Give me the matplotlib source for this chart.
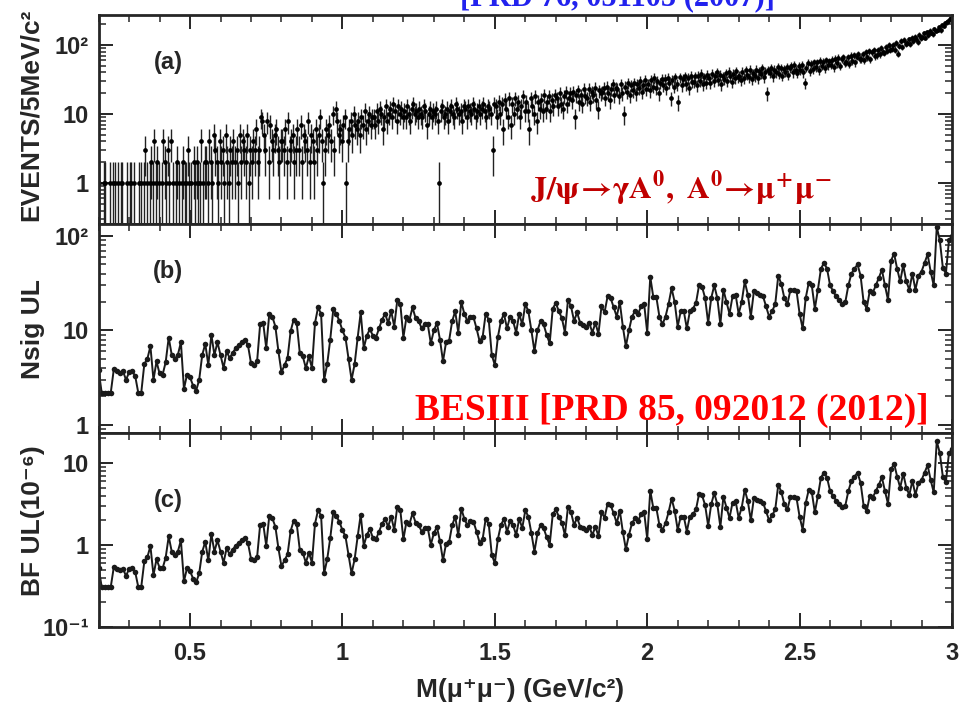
import numpy as np
import matplotlib
matplotlib.use("Agg")
import matplotlib.pyplot as plt
from matplotlib import font_manager as fm
from matplotlib.ticker import FixedLocator, FixedFormatter, MultipleLocator, LogLocator, NullFormatter

# ---------------- data ----------------
# (a) events per 5 MeV bin, rows of 10 bins starting at 0.20, 0.25, ... 2.95 GeV
events_rows = [
    [1,0,0,1,1,0,0,1,0,1], [1,0,1,0,1,1,0,0,1,0], [1,1,0,1,0,0,1,1,0,1], [3,1,0,1,2,1,4,1,2,1],
    [0,1,4,2,1,3,1,4,1,0], [1,2,1,0,1,2,1,1,3,1], [1,0,2,1,2,1,1,4,1,2], [2,1,4,2,1,5,3,2,1,4],
    [2,3,1,5,2,1,3,2,4,2], [3,1,5,2,4,3,2,5,1,3], [2,4,3,6,2,3,9,8,5,3], [8,2,7,4,3,5,6,3,2,4],
    [4,3,6,2,8,3,4,5,2,3], [6,3,7,2,5,4,3,8,2,5], [4,2,6,3,5,9,4,1,3,6], [5,7,4,10,3,12,8,5,6,4],
    [7,9,1,4,6,8,5,10,7,6], [8,5,9,7,11,6,8,10,7,9], [9,7,11,8,12,10,6,9,13,8], [10,12,9,14,11,8,13,10,12,9],
    [11,9,13,10,8,12,14,10,11,9], [12,10,9,13,11,7,10,12,9,11], [10,12,8,1,11,13,9,10,12,8], [11,13,10,9,14,12,10,11,8,13],
    [12,9,13,11,10,14,12,9,11,13], [10,12,14,11,9,13,12,10,3,14], [13,9,15,10,14,6,16,12,9,17], [7,14,10,17,12,15,9,13,18,11],
    [15,11,6,17,13,10,18,8,15,12], [16,11,19,12,15,18,11,16,13,19], [17,13,20,14,12,18,21,14,17,20], [16,21,9,19,22,15,19,14,23,18],
    [17,23,15,21,19,24,16,12,22,20], [21,24,17,25,20,16,23,27,19,24], [23,18,27,20,10,25,21,28,19,26], [22,28,20,27,24,30,21,26,31,23],
    [27,22,31,25,33,24,30,20,28,32], [26,32,24,33,28,17,31,25,34,27], [15,34,26,32,35,27,33,24,36,29], [29,35,26,36,30,38,27,34,28,37],
    [33,28,38,30,36,40,31,37,27,35], [32,39,30,41,35,29,38,33,42,34], [36,31,41,33,43,37,34,44,32,39], [35,44,33,42,38,46,34,41,20,43],
    [39,46,35,44,40,48,38,47,36,45], [41,48,37,46,50,40,51,43,39,49], [44,51,40,28,47,55,42,53,45,56], [48,56,44,59,50,57,46,60,51,58],
    [52,61,48,63,54,65,50,62,67,55], [57,66,53,70,59,72,56,68,74,63], [63,74,60,78,66,81,62,79,84,70], [71,84,73,90,80,77,95,82,99,86],
    [88,101,86,108,75,97,114,94,118,104], [106,121,103,128,115,131,122,112,140,127], [130,147,128,155,140,162,151,142,170,160],
    [165,182,163,196,190,205,212,225,238,250],
]
mass_lo, mass_hi, bin_w = 0.20, 3.00, 0.005

# (b) Nsig upper limit, 10 MeV steps from 0.20 to 3.00 GeV
nsig_rows = [
    [3.8,2.2,2.2,2.2,2.2,3.9,3.7,3.5,3.7,3.0], [3.6,3.7,3.3,2.2,2.2,4.4,5.0,6.8,3.0,4.7],
    [3.5,3.4,4.6,8.4,5.5,5.0,5.5,7.5,2.4,3.4], [3.2,2.6,2.3,3.0,5.5,7.2,4.3,9.0,5.5,7.5],
    [5.5,4.0,6.0,5.1,5.8,6.5,7.0,7.5,8.0,7.0], [4.5,4.3,4.7,11.6,12.0,6.5,15.0,14.0,11.0,6.0],
    [3.6,4.3,5.1,9.8,13.0,12.0,5.8,5.3,4.0,5.3], [4.0,12.0,17.5,15.0,3.0,4.4,8.0,16.7,15.0,12.6],
    [10.0,8.4,5.0,3.0,4.4,8.4,15.5,6.5,8.8,10.3], [8.8,8.4,10.5,13.0,15,12,16,11,21,19],
    [8.4,13.8,13,17.5,13.5,12.6,10.5,11.6,11.6,7.3], [10,12,8,4.7,7.5,7.8,12.5,16,9.5,20],
    [15,12.6,14,13.8,10.5,7.7,8.5,15,13,5.5], [4.3,8.5,12.6,15,10.5,14,12.5,9.5,15,11.6],
    [19,16,10,6,10,12.6,11.6,9,7.3,17], [19.5,16,13.5,9.5,21,18,12.6,15.5,12,11.5],
    [11,12,9.5,12,9.2,18,15.5,23,22,17.5], [14,20,11,6.8,10,14,16,15,18,19],
    [9.5,37,22.5,22.5,14,11.6,14,19,28,20], [11,16,16,10.5,16,17,19.5,30,29,22],
    [12,22,30,22,11.6,27,20,15,23,24], [15,20,33,24,14,26,25,24,23,18],
    [14,16,19,38,31,22,19,27,27,26], [15,10.5,22,32,30,17,27,45,52,45],
    [30,26,23,21,19,20,30,40,45,50], [38,20,17,26,25,30,36,44,30,21],
    [55,65,45,33,49,33,27,40,27,38], [42,52,64,42,30,125,90,46,40,90],
    [100],
]

# (c) BF upper limit (1e-6), same mass points
bf_rows = [
    [0.53,0.31,0.31,0.31,0.31,0.54,0.51,0.49,0.51,0.42], [0.51,0.53,0.47,0.31,0.31,0.63,0.71,0.97,0.43,0.67],
    [0.53,0.52,0.70,1.27,0.83,0.76,0.83,1.14,0.36,0.52], [0.48,0.39,0.35,0.45,0.83,1.09,0.65,1.36,0.83,1.14],
    [0.83,0.61,0.91,0.77,0.88,0.98,1.06,1.14,1.21,1.06], [0.68,0.65,0.71,1.76,1.82,0.98,2.27,2.12,1.67,0.91],
    [0.55,0.65,0.77,1.48,1.97,1.82,0.88,0.80,0.61,0.80], [0.61,1.82,2.65,2.27,0.45,0.67,1.21,2.53,2.27,1.91],
    [1.52,1.27,0.76,0.45,0.67,1.27,2.35,0.98,1.33,1.56], [1.22,1.17,1.46,1.81,2.08,1.67,2.22,1.53,2.92,2.64],
    [1.17,1.92,1.81,2.43,1.88,1.75,1.46,1.61,1.61,1.01], [1.39,1.67,1.11,0.65,1.04,1.08,1.74,2.22,1.32,2.78],
    [2.08,1.75,1.94,1.92,1.46,1.07,1.18,2.08,1.81,0.76], [0.60,1.18,1.75,2.08,1.46,1.94,1.74,1.32,2.08,1.61],
    [2.64,2.22,1.39,0.83,1.39,1.75,1.61,1.25,1.01,2.36], [2.71,2.22,1.88,1.32,2.92,2.50,1.75,2.15,1.67,1.60],
    [1.53,1.67,1.32,1.67,1.28,2.50,2.15,3.19,3.06,2.43], [1.84,2.63,1.45,0.89,1.32,1.84,2.11,1.97,2.37,2.50],
    [1.19,4.60,2.81,2.81,1.75,1.53,1.84,2.50,3.68,2.63], [1.53,2.22,2.22,1.46,2.22,2.36,2.71,4.17,4.03,3.06],
    [1.71,3.14,4.29,3.14,1.66,3.86,2.86,2.14,3.29,3.43], [2.14,2.86,4.71,3.43,2.00,3.71,3.57,3.43,3.29,2.57],
    [2.00,2.29,2.71,5.43,4.43,3.14,2.71,3.86,3.86,3.71], [2.21,1.54,3.24,4.71,4.41,2.50,3.97,6.62,7.65,6.62],
    [4.55,3.94,3.48,3.18,2.88,3.03,4.55,6.06,6.82,7.58], [5.76,3.03,2.58,3.94,3.79,4.55,5.45,6.67,4.55,3.18],
    [8.33,9.85,6.82,5.00,7.42,5.00,4.09,6.06,4.09,5.76], [6.18,7.65,9.41,6.18,4.41,18.4,13.2,6.76,5.88,13.2],
    [14.7],
]
ul_step = 0.01

xtick_vals = [0.5, 1, 1.5, 2, 2.5, 3]
xtick_labels = ["0.5", "1", "1.5", "2", "2.5", "3"]
ya_ticks, ya_labels = [1, 10, 100], ["1", "10", "10\u00b2"]
yb_ticks, yb_labels = [1, 10, 100], ["1", "10", "10\u00b2"]
yc_ticks, yc_labels = [0.1, 1, 10], ["10\u207b\u00b9", "1", "10"]

# ---------------- fonts ----------------
names = {f.name for f in fm.fontManager.ttflist}
sans = [n for n in ["Liberation Sans", "DejaVu Sans"] if n in names]
serif = [n for n in ["Liberation Serif", "DejaVu Serif"] if n in names]
plt.rcParams["font.family"] = sans
plt.rcParams["font.weight"] = "bold"
plt.rcParams["mathtext.fontset"] = "stix"
tick_fs = 17
lab_fs = 19
ink = "#262626"

# ---------------- arrays ----------------
events = np.array(sum(events_rows, []), dtype=float)
centers = mass_lo + bin_w * (np.arange(events.size) + 0.5)
nsig = np.array(sum(nsig_rows, []), dtype=float)
bf = np.array(sum(bf_rows, []), dtype=float)
x_ul = mass_lo + ul_step * np.arange(nsig.size)

# ---------------- figure ----------------
W, H = 959, 706
fig = plt.figure(figsize=(W / 100, H / 100), dpi=100)
left, right = 98.6 / W, 952 / W
def rect(top_px, bot_px):
    return [left, 1 - bot_px / H, right - left, (bot_px - top_px) / H]

ax_a = fig.add_axes(rect(15, 224))
ax_b = fig.add_axes(rect(224, 433))
ax_c = fig.add_axes(rect(433, 627))

# (a)
m = events > 0
y = events[m]
err = np.sqrt(y)
lo = np.clip(y - err, 1e-3, None)
ax_a.errorbar(centers[m], y, yerr=[y - lo, err], xerr=bin_w / 2, fmt="o", ms=3.4,
              color="black", ecolor="#222222", elinewidth=1.0, capsize=0, mew=0)
ax_a.set_ylim(0.255, 272)

# (b)
ax_b.plot(x_ul, nsig, "-o", color="#1a1a1a", lw=1.4, ms=4.0, mew=0)
ax_b.set_ylim(0.82, 134)

# (c)
ax_c.plot(x_ul, bf, "-o", color="#1a1a1a", lw=1.4, ms=4.0, mew=0)
ax_c.set_ylim(0.1, 23.2)

for ax, yt, yl in [(ax_a, ya_ticks, ya_labels), (ax_b, yb_ticks, yb_labels), (ax_c, yc_ticks, yc_labels)]:
    ax.set_yscale("log")
    ax.set_xlim(mass_lo, mass_hi)
    ax.xaxis.set_major_locator(FixedLocator(xtick_vals))
    ax.xaxis.set_minor_locator(MultipleLocator(0.1))
    ax.yaxis.set_major_locator(FixedLocator(yt))
    ax.yaxis.set_major_formatter(FixedFormatter(yl))
    ax.yaxis.set_minor_locator(LogLocator(base=10, subs=np.arange(2, 10), numticks=20))
    ax.yaxis.set_minor_formatter(NullFormatter())
    ax.tick_params(which="both", direction="in", top=True, right=True, colors=ink)
    ax.tick_params(which="major", length=10, width=1.4, labelsize=tick_fs, pad=7)
    ax.tick_params(which="minor", length=5, width=1.1)
    for s in ax.spines.values():
        s.set_linewidth(2.0)
        s.set_color(ink)
    if ax is not ax_c:
        ax.xaxis.set_major_formatter(NullFormatter())
    else:
        ax.xaxis.set_major_formatter(FixedFormatter(xtick_labels))
        ax.tick_params(axis="x", which="major", pad=11)
    for t in ax.get_yticklabels() + ax.get_xticklabels():
        t.set_fontweight("bold")

# panel labels
for txt, ypx in [("(a)", 63), ("(b)", 272), ("(c)", 501)]:
    fig.text(168 / W, 1 - ypx / H, txt, ha="center", va="center", fontsize=17,
             fontweight="bold", color=ink)

# axis labels
fig.text(31 / W, 1 - 115 / H, "EVENTS/5MeV/c\u00b2", rotation=90, ha="center", va="center",
         fontsize=lab_fs, fontweight="bold", color=ink)
fig.text(33 / W, 1 - 329 / H, "Nsig UL", rotation=90, ha="center", va="center",
         fontsize=lab_fs, fontweight="bold", color=ink)
fig.text(33 / W, 1 - 521 / H, "BF UL(10\u207b\u2076)", rotation=90, ha="center", va="center",
         fontsize=lab_fs, fontweight="bold", color=ink)
fig.text(520 / W, 1 - 690 / H, "M(\u03bc\u207a\u03bc\u207b) (GeV/c\u00b2)", ha="center", va="center",
         fontsize=19, fontweight="bold", color=ink)

# annotations
fig.text(460 / W, 1 - 5 / H, "[PRD 76, 051105 (2007)]", ha="left", va="baseline",
         fontsize=22, fontweight="bold", family=serif, color="#2222ee")
fig.text(530 / W, 1 - 199 / H, r"$\mathbf{J/\psi\!\rightarrow\!\gamma A^{0},\ A^{0}\!\rightarrow\!\mu^{+}\mu^{-}}$",
         ha="left", va="baseline", fontsize=23, color="#c00000")
fig.text(415 / W, 1 - 420 / H, "BESIII [PRD 85, 092012 (2012)]", ha="left", va="baseline",
         fontsize=27, fontweight="bold", family=serif, color="#ff0000")

fig.savefig("out.png", dpi=100, facecolor="white")
